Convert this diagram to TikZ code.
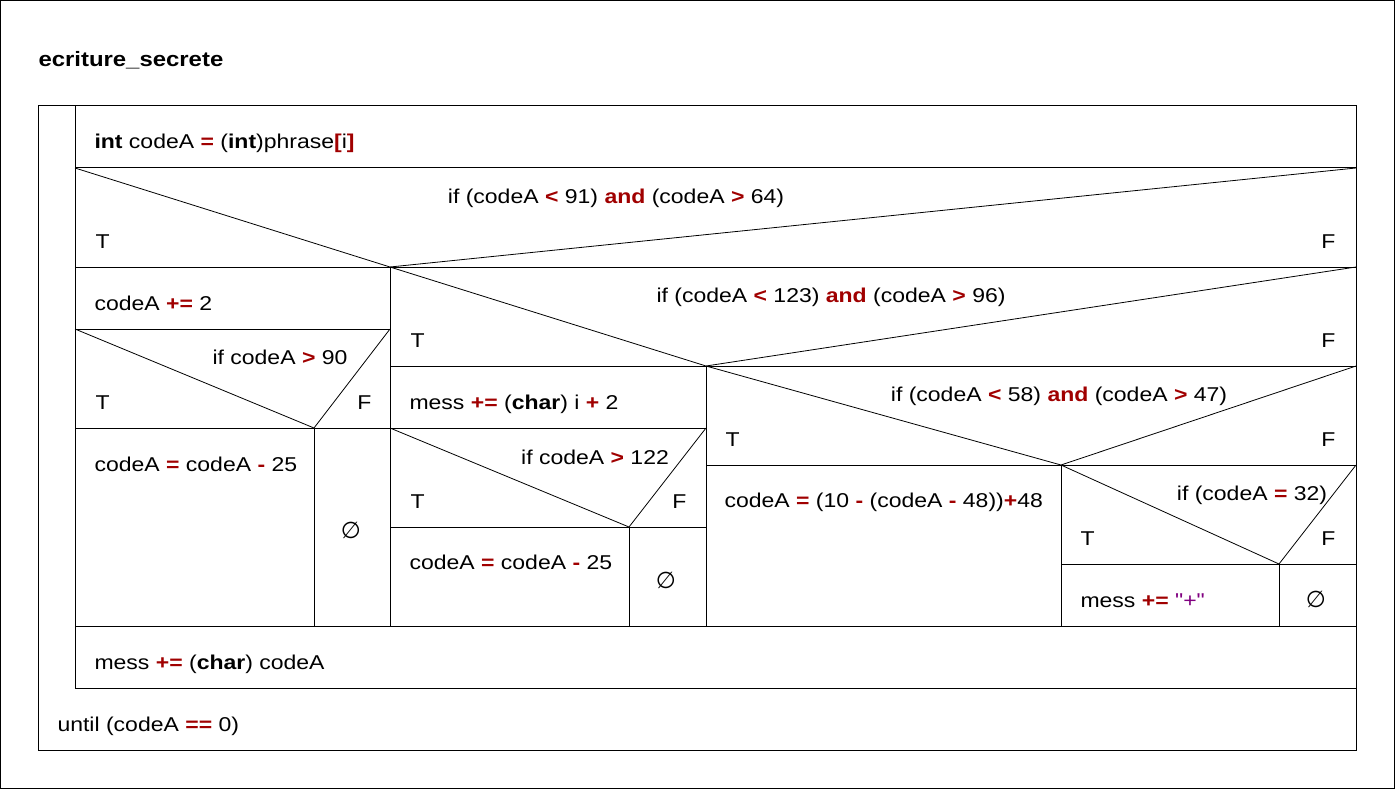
\documentclass[tikz,border=0pt]{standalone}
\usepackage{fontspec}
\setmainfont[FakeStretch=1.15]{Liberation Sans}
% plain font without TeX ligatures, so that " stays a straight quote
\newfontfamily\strfont[FakeStretch=1.15]{Liberation Sans}
\newfontfamily\symfont{DejaVu Sans}
\definecolor{opred}{RGB}{160,0,0}
\definecolor{strpurple}{RGB}{128,0,128}
\newcommand\op[1]{\textcolor{opred}{\textbf{#1}}}
\newcommand\kw[1]{\textbf{#1}}
\newcommand\str[1]{\textcolor{strpurple}{\strfont #1}}
\newcommand\noaction{{\symfont\fontsize{23}{26}\selectfont ∅}}
\begin{document}
\begin{tikzpicture}[x=1pt,y=-1pt,line width=1pt,
  base/.style={inner sep=0pt,font=\fontsize{20}{24}\selectfont},
  stmt/.style={base,anchor=base west},
  cond/.style={base,anchor=base},
  tlab/.style={base,anchor=base west},
  flab/.style={base,anchor=base east},
  nop/.style={base,anchor=center},
  diag/.style={line width=0.8pt}]
\useasboundingbox (0,0) rectangle (1395,789);
% outer frame
\draw (0.5,0.5) rectangle (1394.5,788.5);
\node[base,anchor=base west,font=\fontsize{20.8}{24}\selectfont\bfseries] (title) at (38,67) {ecriture\_secrete};

% repeat-until loop
\draw (38,106) rectangle (1356,750);
\draw (75,106) -- (75,688) -- (1356,688);

% horizontal separators
\draw (75,168) -- (1356,168);
\draw (75,267) -- (1356,267);
\draw (75,329) -- (390,329);
\draw (75,428) -- (390,428);
\draw (75,626) -- (1356,626);
\draw (390,366) -- (1356,366);
\draw (390,428) -- (706,428);
\draw (390,527) -- (706,527);
\draw (706,465) -- (1356,465);
\draw (1061,564) -- (1356,564);

% vertical separators
\draw (390,267) -- (390,626);
\draw (314,428) -- (314,626);
\draw (706,366) -- (706,626);
\draw (629,527) -- (629,626);
\draw (1061,465) -- (1061,626);
\draw (1279,564) -- (1279,626);

% decision triangles
\draw[diag] (75,168) -- (390,267) -- (1356,168);
\draw[diag] (75,329) -- (314,428) -- (390,329);
\draw[diag] (390,267) -- (706,366) -- (1356,267);
\draw[diag] (390,428) -- (629,527) -- (706,428);
\draw[diag] (706,366) -- (1061,465) -- (1356,366);
\draw[diag] (1061,465) -- (1279,564) -- (1356,465);

% statements
\node[stmt] (s1) at (94,149) {\kw{int} codeA \op{=} (\kw{int})phrase\op{[}i\op{]}};
\node[cond] (c1) at (616,203) {if (codeA \op{<} 91) \op{and} (codeA \op{>} 64)};
\node[tlab] (c1t) at (95,248) {T};
\node[flab] (c1f) at (1336,248) {F};

\node[stmt] (s2) at (94,310) {codeA \op{+=} 2};
\node[cond] (c2) at (280,364) {if codeA \op{>} 90};
\node[tlab] (c2t) at (95,409) {T};
\node[flab] (c2f) at (372,409) {F};
\node[stmt] (s3) at (94,471) {codeA \op{=} codeA \op{-} 25};
\node[nop] (n1) at (351,530) {\noaction};

\node[cond] (c3) at (831,302) {if (codeA \op{<} 123) \op{and} (codeA \op{>} 96)};
\node[tlab] (c3t) at (410,347) {T};
\node[flab] (c3f) at (1336,347) {F};

\node[stmt] (s4) at (409,409) {mess \op{+=} (\kw{char}) i \op{+} 2};
\node[cond] (c4) at (595,464) {if codeA \op{>} 122};
\node[tlab] (c4t) at (410,508) {T};
\node[flab] (c4f) at (687,508) {F};
\node[stmt] (s5) at (409,569) {codeA \op{=} codeA \op{-} 25};
\node[nop] (n2) at (666,580) {\noaction};

\node[cond] (c5) at (1059,401) {if (codeA \op{<} 58) \op{and} (codeA \op{>} 47)};
\node[tlab] (c5t) at (725,446) {T};
\node[flab] (c5f) at (1336,446) {F};
\node[stmt] (s6) at (724,507) {codeA \op{=} (10 \op{-} (codeA \op{-} 48))\op{+}48};

\node[cond] (c6) at (1252,500) {if (codeA \op{=} 32)};
\node[tlab] (c6t) at (1080,545) {T};
\node[flab] (c6f) at (1336,545) {F};
\node[stmt] (s7) at (1080,607) {mess \op{+=} \str{"+"}};
\node[nop] (n3) at (1316,599) {\noaction};

\node[stmt] (s8) at (94,669) {mess \op{+=} (\kw{char}) codeA};
\node[stmt] (s9) at (57,731) {until (codeA \op{==} 0)};
\end{tikzpicture}
\end{document}
